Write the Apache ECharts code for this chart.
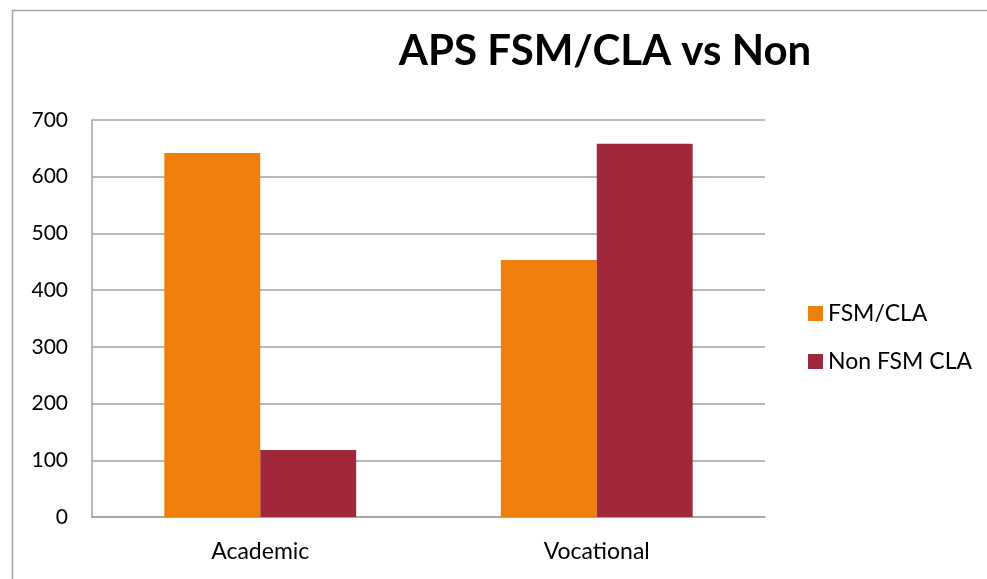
<!DOCTYPE html>
<html>
<head>
<meta charset="utf-8">
<script src="https://cdn.jsdelivr.net/npm/echarts@6/dist/echarts.min.js"></script>
<style>
  html, body { margin: 0; padding: 0; background: #fff; }
  #chart { width: 987px; height: 579px; }
</style>
</head>
<body>
<div id="chart"></div>
<script>
'use strict';

var categories = ['Academic', 'Vocational'];
var fsm_cla = [642, 453];
var non_fsm_cla = [118, 658];
var y_ticks = [0, 100, 200, 300, 400, 500, 600, 700];

var chart = echarts.init(document.getElementById('chart'));

var font = 'Lato, "Open Sans", sans-serif';

var option = {
    animation: false,
    backgroundColor: '#fff',
    title: {
        text: 'APS FSM/CLA vs Non',
        left: 600,
        top: 25,
        textAlign: 'center',
        textStyle: {
            fontFamily: font,
            fontWeight: 'bold',
            fontSize: 42,
            color: '#000'
        }
    },
    // outer frame of the chart, runs off the right and bottom edge
    graphic: [{
        type: 'rect',
        left: 10,
        top: 8,
        shape: { width: 1000, height: 620 },
        style: { fill: 'none', stroke: '#a6a6a6', lineWidth: 1.5 },
        silent: true
    }],
    legend: {
        orient: 'vertical',
        left: 803,
        top: 297,
        itemWidth: 15,
        itemHeight: 15,
        itemGap: 25,
        icon: 'rect',
        textStyle: {
            fontFamily: font,
            fontSize: 23,
            color: '#000'
        },
        data: ['FSM/CLA', 'Non FSM CLA']
    },
    grid: {
        left: 92,
        right: 222,
        top: 120,
        bottom: 62,
        containLabel: false
    },
    xAxis: {
        type: 'category',
        data: categories,
        axisLine: { lineStyle: { color: '#a0a0a0', width: 1.5 } },
        axisTick: { show: false },
        axisLabel: {
            fontFamily: font,
            fontSize: 23,
            color: '#000',
            margin: 23
        }
    },
    yAxis: {
        type: 'value',
        min: y_ticks[0],
        max: y_ticks[y_ticks.length - 1],
        interval: 100,
        axisLine: { show: true, lineStyle: { color: '#a0a0a0', width: 1.5 } },
        axisTick: { show: false },
        splitLine: { lineStyle: { color: '#a0a0a0', width: 1.5 } },
        axisLabel: {
            fontFamily: font,
            fontSize: 21,
            color: '#000',
            margin: 24
        }
    },
    series: [
        {
            name: 'FSM/CLA',
            type: 'bar',
            data: fsm_cla,
            barWidth: '28.5%',
            barGap: '0%',
            itemStyle: { color: '#ef7f0b' }
        },
        {
            name: 'Non FSM CLA',
            type: 'bar',
            data: non_fsm_cla,
            barWidth: '28.5%',
            barGap: '0%',
            itemStyle: { color: '#a1283a' }
        }
    ]
};

chart.setOption(option);
</script>
</body>
</html>
